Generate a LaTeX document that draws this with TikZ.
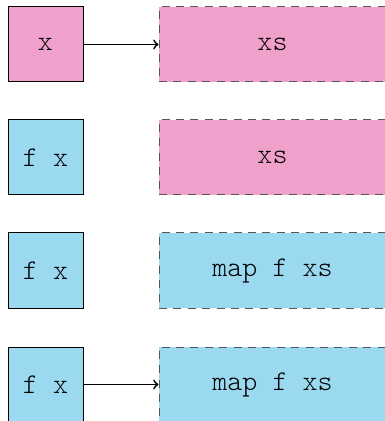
\documentclass[tikz,border=0pt]{standalone}
\usepackage{tikz}
\definecolor{elempink}{RGB}{240,161,203}
\definecolor{elemblue}{RGB}{154,217,240}
\definecolor{dashgray}{RGB}{85,85,85}
\begin{document}
\begin{tikzpicture}[x=0.5pt,y=-0.5pt,
  labelfont/.style={font=\fontsize{14.3}{17}\fontseries{l}\ttfamily\selectfont},
  headbox/.style={draw=black, line width=0.5pt, minimum width=37.5pt, minimum height=37.5pt,
    inner sep=0pt, labelfont},
  tailbox/.style={draw=dashgray, line width=0.5pt, dash pattern=on 4pt off 3.2pt,
    minimum width=113.5pt, minimum height=37.5pt, inner sep=0pt, labelfont},
  pinkfill/.style={fill=elempink},
  bluefill/.style={fill=elemblue},
  link/.style={->, line width=0.85pt}]
\useasboundingbox (0,0) rectangle (384,421);
% row 1: the head x and the tail xs
\node[headbox, pinkfill] (h1) at (45.5,44.5) {x};
\node[tailbox, pinkfill] (t1) at (272.5,44.5) {xs};
% row 2: head mapped
\node[headbox, bluefill] (h2) at (45.5,157.5) {f x};
\node[tailbox, pinkfill] (t2) at (272.5,157.5) {xs};
% row 3: tail mapped
\node[headbox, bluefill] (h3) at (45.5,270.5) {f x};
\node[tailbox, bluefill] (t3) at (272.5,270.5) {map f xs};
% row 4: reassembled list
\node[headbox, bluefill] (h4) at (45.5,384.5) {f x};
\node[tailbox, bluefill] (t4) at (272.5,384.5) {map f xs};
\draw[link] (h1.east) -- (t1.west);
\draw[link] (h4.east) -- (t4.west);
\end{tikzpicture}
\end{document}
